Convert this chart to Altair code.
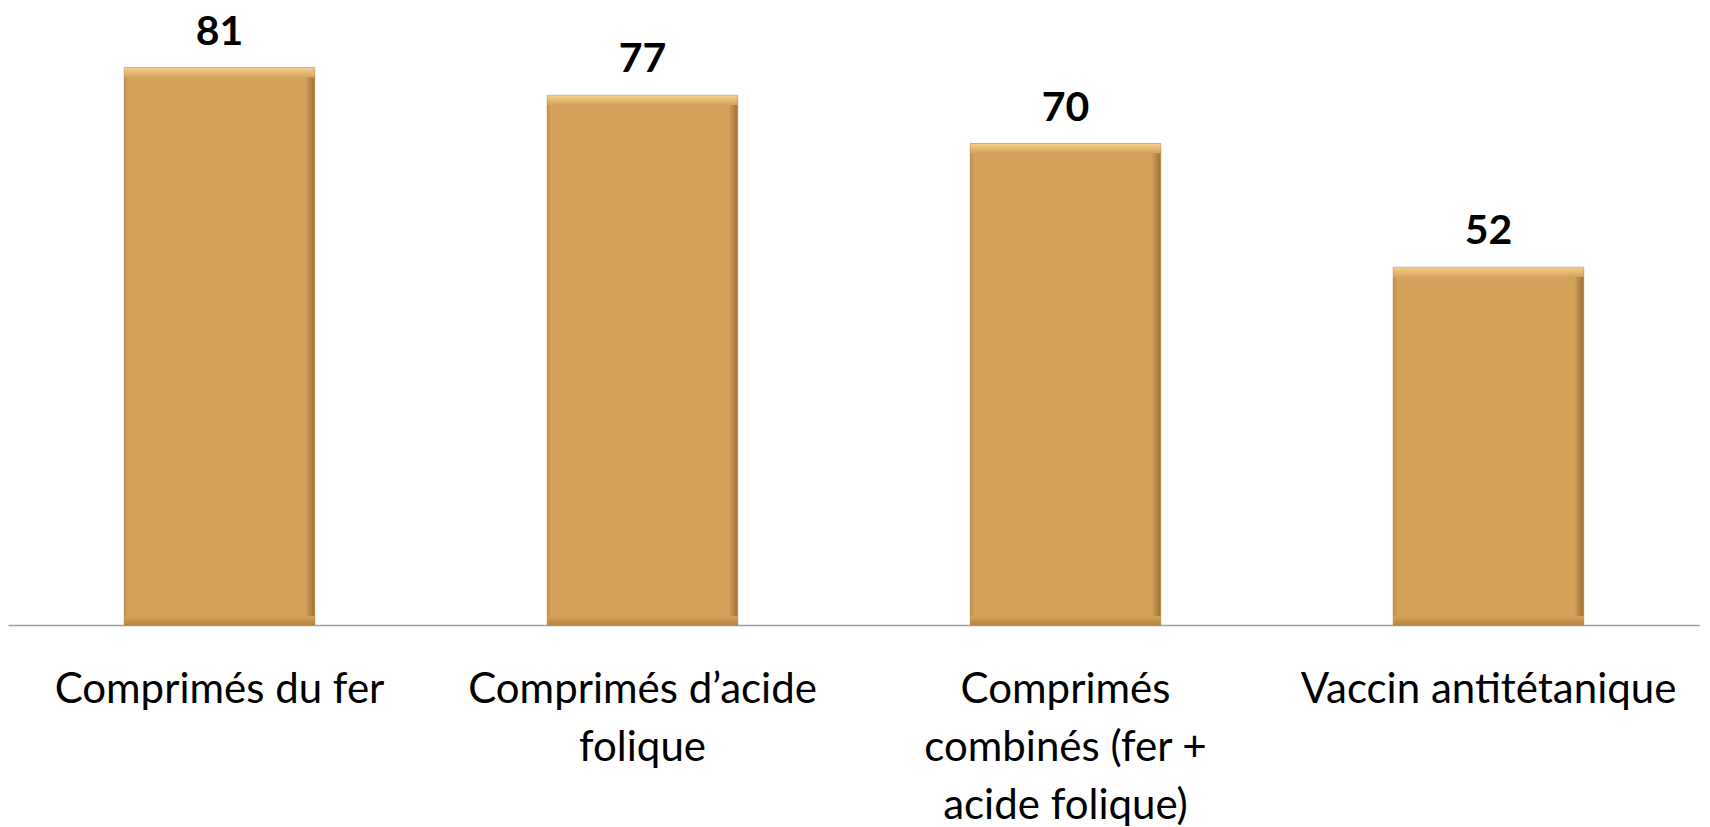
import altair as alt
import pandas as pd

categories = [
    "Comprimés du fer",
    "Comprimés d’acide|folique",
    "Comprimés|combinés (fer +|acide folique)",
    "Vaccin antitétanique",
]
values = [81, 77, 70, 52]

df = pd.DataFrame({"cat": categories, "val": values})

FONT = "Lato"
BAR = "#D5A25B"

x_enc = alt.X(
    "cat:N",
    sort=categories,
    scale=alt.Scale(paddingInner=0.55, paddingOuter=0.275),
    axis=alt.Axis(
        title=None,
        ticks=False,
        tickSize=0,
        labelAngle=0,
        labelExpr="split(datum.label, '|')",
        labelFont=FONT,
        labelFontSize=42,
        labelColor="#000000",
        labelLineHeight=58,
        labelPadding=44,
        labelLimit=0,
        labelOverlap=False,
        labelBaseline="top",
        domainColor="#a0a0a0",
        domainWidth=1.3,
        grid=False,
    ),
)
y_scale = alt.Scale(domain=[0, 89.7], nice=False, zero=True)

base = alt.Chart(df)

bars = base.mark_bar(
    fill=alt.Gradient(
        gradient="linear",
        x1=0, x2=1, y1=0, y2=0,
        stops=[
            alt.GradientStop(offset=0, color="#C08C48"),
            alt.GradientStop(offset=0.02, color=BAR),
            alt.GradientStop(offset=0.95, color=BAR),
            alt.GradientStop(offset=1, color="#9C7036"),
        ],
    ),
    stroke="#B7884A",
    strokeWidth=1,
).encode(
    x=x_enc,
    y=alt.Y("val:Q", scale=y_scale, axis=None),
)

bevel_top = base.transform_calculate(top2="datum.val - 1.4").mark_bar(
    fill=alt.Gradient(
        gradient="linear",
        x1=0, x2=0, y1=0, y2=1,
        stops=[
            alt.GradientStop(offset=0, color="#F6D08C"),
            alt.GradientStop(offset=1, color=BAR),
        ],
    ),
).encode(
    x=x_enc,
    y=alt.Y("val:Q", scale=y_scale, axis=None),
    y2="top2:Q",
)

bevel_bottom = base.transform_calculate(b0="0", b1="1.3").mark_bar(
    fill=alt.Gradient(
        gradient="linear",
        x1=0, x2=0, y1=0, y2=1,
        stops=[
            alt.GradientStop(offset=0, color=BAR),
            alt.GradientStop(offset=1, color="#B5853F"),
        ],
    ),
).encode(
    x=x_enc,
    y=alt.Y("b1:Q", scale=y_scale, axis=None),
    y2="b0:Q",
)

labels = base.mark_text(
    font=FONT,
    fontSize=41,
    fontWeight="bold",
    color="#000000",
    baseline="alphabetic",
    dy=-23,
).encode(
    x=x_enc,
    y=alt.Y("val:Q", scale=y_scale, axis=None),
    text=alt.Text("val:Q"),
)

chart = (
    alt.layer(bars, bevel_top, bevel_bottom, labels)
    .properties(width=1692, height=617, padding=0, background="#ffffff")
    .configure_view(strokeWidth=0, stroke="transparent")
)

chart.save("out.html", embed_options={"renderer": "svg", "actions": False})
